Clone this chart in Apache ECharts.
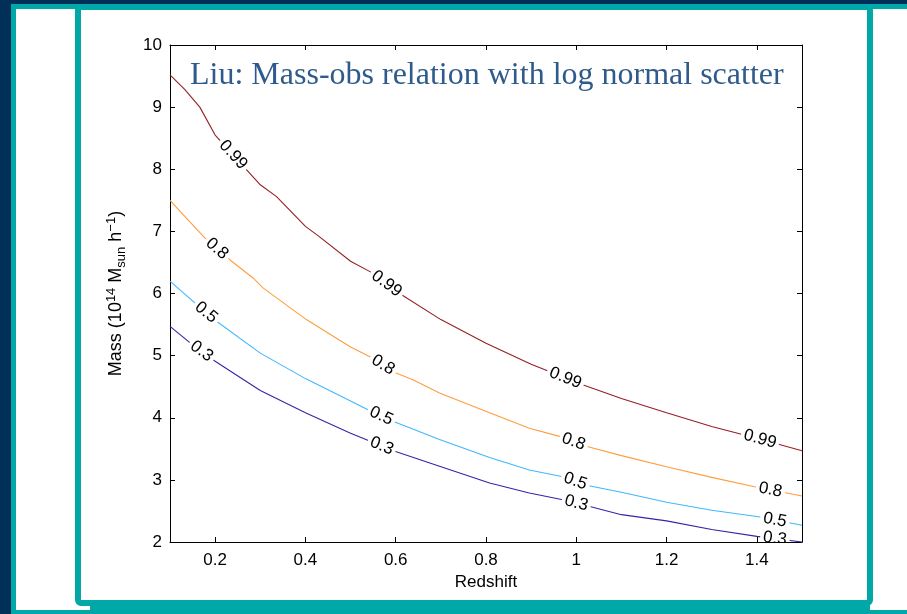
<!DOCTYPE html>
<html><head><meta charset="utf-8">
<script src="https://cdn.jsdelivr.net/npm/echarts@6/dist/echarts.min.js"></script>
<style>html,body{margin:0;padding:0;background:#003057}#c{width:907px;height:614px}</style>
</head><body><div id="c"></div>
<script>
// ---- data ----
const xTicks = [0.2, 0.4, 0.6, 0.8, 1.0, 1.2, 1.4];
const yTicks = [2, 3, 4, 5, 6, 7, 8, 9, 10];
const levelNames = ['0.99', '0.8', '0.5', '0.3'];
const curve99 = [[0.1,9.52],[0.133,9.28],[0.166,9.0],[0.2,8.55],[0.3,7.75],[0.336,7.56],[0.4,7.08],[0.43,6.92],[0.5,6.52],[0.546,6.34],[0.613,5.98],[0.7,5.58],[0.8,5.20],[0.9,4.86],[1.014,4.53],[1.1,4.31],[1.2,4.08],[1.3,3.86],[1.4,3.67],[1.5,3.47]];
const curve80 = [[0.1,7.50],[0.18,6.87],[0.233,6.54],[0.284,6.25],[0.306,6.09],[0.402,5.58],[0.5,5.14],[0.546,4.97],[0.598,4.73],[0.638,4.61],[0.697,4.40],[0.808,4.08],[0.896,3.83],[0.963,3.70],[1.022,3.54],[1.1,3.39],[1.2,3.21],[1.3,3.04],[1.4,2.88],[1.5,2.74]];
const curve50 = [[0.1,6.20],[0.155,5.85],[0.2,5.57],[0.3,5.04],[0.4,4.63],[0.5,4.27],[0.544,4.11],[0.598,3.93],[0.697,3.65],[0.808,3.36],[0.896,3.16],[0.97,3.05],[1.025,2.91],[1.1,2.80],[1.2,2.64],[1.3,2.51],[1.4,2.41],[1.5,2.27]];
const curve30 = [[0.1,5.47],[0.144,5.21],[0.2,4.91],[0.3,4.44],[0.4,4.08],[0.5,3.75],[0.598,3.46],[0.697,3.22],[0.808,2.95],[0.896,2.79],[0.97,2.68],[1.03,2.57],[1.1,2.44],[1.2,2.34],[1.3,2.20],[1.4,2.09],[1.5,2.00]];
const labelX99 = [0.24, 0.58, 0.976, 1.407];
const labelX80 = [0.204, 0.572, 0.994, 1.43];
const labelX50 = [0.18, 0.568, 0.998, 1.44];
const labelX30 = [0.17, 0.569, 1.0, 1.44];
const titleText = 'Liu: Mass-obs relation with log normal scatter';

// ---- chart ----
const curves = [curve99, curve80, curve50, curve30];
const labelXs = [labelX99, labelX80, labelX50, labelX30];
const colors = ['#961f24', '#ff9d3f', '#3fb8ff', '#3a22a6'];
const FONT = '"Liberation Sans", Arial, Helvetica, sans-serif';

function interp(curve, x) {
  for (let i = 0; i < curve.length - 1; i++) {
    const a = curve[i], b = curve[i + 1];
    if (x >= a[0] && x <= b[0]) {
      const t = (x - a[0]) / (b[0] - a[0]);
      return a[1] + t * (b[1] - a[1]);
    }
  }
  return curve[curve.length - 1][1];
}

function labelSeries(curve, xs, text) {
  return {
    type: 'custom', coordinateSystem: 'cartesian2d', xAxisIndex: 0, yAxisIndex: 0,
    clip: true, z: 5, silent: true,
    data: xs.map(x => [x, interp(curve, x)]),
    renderItem: (params, api) => {
      const x = api.value(0);
      const p = api.coord([x, interp(curve, x)]);
      const p1 = api.coord([x - 0.03, interp(curve, x - 0.03)]);
      const p2 = api.coord([x + 0.03, interp(curve, x + 0.03)]);
      const ang = -Math.atan2(p2[1] - p1[1], p2[0] - p1[0]);
      return {
        type: 'text', x: p[0], y: p[1], rotation: ang,
        style: {
          text: text, fill: '#000', font: '17px ' + FONT,
          align: 'center', verticalAlign: 'middle',
          backgroundColor: '#fff', padding: [0, 3]
        }
      };
    }
  };
}

const axisCommon = {
  axisLine: { onZero: false, lineStyle: { color: '#000', width: 1 } },
  splitLine: { show: false }
};

const series = [];
curves.forEach((c, i) => {
  series.push({
    type: 'line', data: c, xAxisIndex: 0, yAxisIndex: 0,
    symbol: 'none', showSymbol: false, silent: true, z: 2,
    lineStyle: { color: colors[i], width: 1.1 }
  });
});
curves.forEach((c, i) => series.push(labelSeries(c, labelXs[i], levelNames[i])));

const chart = echarts.init(document.getElementById('c'), null, { renderer: 'canvas' });
chart.setOption({
  backgroundColor: '#003057',
  animation: false,
  grid: { left: 170, right: 105, top: 45, bottom: 72, containLabel: false },
  graphic: [
    { type: 'rect', z: -30, shape: { x: 13.5, y: 6.5, width: 905, height: 606 },
      style: { fill: '#fff', stroke: '#00a8a8', lineWidth: 5 } },
    { type: 'rect', z: -20, shape: { x: 90, y: 14, width: 780, height: 597 },
      style: { fill: '#00a8a8' } },
    { type: 'rect', z: -10, shape: { x: 78, y: 7, width: 792, height: 596, r: 3 },
      style: { fill: '#fff', stroke: '#00a8a8', lineWidth: 6 } },
    { type: 'text', z: 50, x: 190, y: 76,
      style: { text: titleText, font: '32px "Liberation Serif", "Times New Roman", serif',
               fill: '#2f5b8c', verticalAlign: 'middle', align: 'left' } }
  ],
  xAxis: [
    Object.assign({}, axisCommon, {
      type: 'value', min: 0.1, max: 1.5, position: 'bottom',
      axisTick: { inside: true, length: 5, customValues: xTicks, lineStyle: { color: '#000' } },
      axisLabel: { customValues: xTicks, color: '#000', fontSize: 17, fontFamily: FONT, margin: 10 },
      name: 'Redshift', nameLocation: 'middle', nameGap: 29,
      nameTextStyle: { color: '#000', fontSize: 17, fontFamily: FONT }
    }),
    Object.assign({}, axisCommon, {
      type: 'value', min: 0.1, max: 1.5, position: 'top',
      axisTick: { inside: true, length: 5, customValues: xTicks, lineStyle: { color: '#000' } },
      axisLabel: { show: false }
    })
  ],
  yAxis: [
    Object.assign({}, axisCommon, {
      type: 'value', min: 2, max: 10, position: 'left',
      axisTick: { inside: true, length: 5, customValues: yTicks, lineStyle: { color: '#000' } },
      axisLabel: { customValues: yTicks, color: '#000', fontSize: 17, fontFamily: FONT, margin: 8 },
      name: '{a|Mass (10}{sup|14}{a| M}{sub|sun}{a| h}{sup|−1}{a|)}',
      nameLocation: 'middle', nameGap: 42, nameRotate: 90,
      nameTextStyle: {
        color: '#000', fontSize: 18, fontFamily: FONT,
        rich: {
          a: { fontSize: 18, fontFamily: FONT, color: '#000' },
          sup: { fontSize: 13, fontFamily: FONT, color: '#000', padding: [0, 0, 10, 0] },
          sub: { fontSize: 13, fontFamily: FONT, color: '#000', padding: [10, 0, 0, 0] }
        }
      }
    }),
    Object.assign({}, axisCommon, {
      type: 'value', min: 2, max: 10, position: 'right',
      axisTick: { inside: true, length: 5, customValues: yTicks, lineStyle: { color: '#000' } },
      axisLabel: { show: false }
    })
  ],
  series: series
});
</script>
</body></html>
